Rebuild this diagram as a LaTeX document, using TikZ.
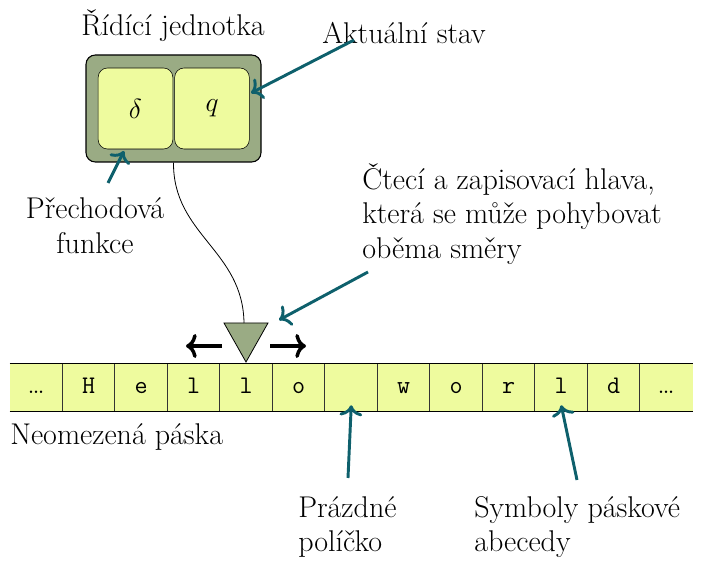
\documentclass[tikz,border=0pt]{standalone}
\usetikzlibrary{positioning,arrows.meta}
\definecolor{olivebox}{RGB}{154,171,132}
\definecolor{paleyellow}{RGB}{238,251,158}
\definecolor{tealarrow}{RGB}{14,96,108}
\tikzset{
	label text/.style={font=\fontsize{22.5}{26}\selectfont, inner sep=0pt, align=left},
	pointer/.style={-{Computer Modern Rightarrow[length=8pt,width=17pt]}, draw=tealarrow, line width=2.2pt},
	move/.style={-{Computer Modern Rightarrow[length=8pt,width=18pt]}, line width=2.6pt},
	inner box/.style={draw, fill=paleyellow, rounded corners=7pt, minimum width=56pt, minimum height=60.75pt, inner sep=0pt, font=\fontsize{22.5}{26}\selectfont},
	tape cell/.style={fill=paleyellow, minimum width=39.375pt, minimum height=35.25pt, inner sep=0pt, font=\fontsize{19}{22}\selectfont\ttfamily}
}
\begin{document}
\begin{tikzpicture}[x=0.75pt,y=0.75pt,yscale=-1,xscale=1]
	\useasboundingbox (0,0) rectangle (701,563);

	% ridici jednotka
	\node [draw, fill=olivebox, rounded corners=7pt, minimum width=131.25pt, minimum height=80.25pt, line width=0.8pt] (unit) at (173.5,108.5) {};
	\node [inner box] (delta) at (135.5,108.5) {$\delta$};
	\node [inner box] (state) at (212,108.5) {$q$};
	\node [label text, anchor=center] (title) at (173,26) {Řídící jednotka};

	\node [label text, anchor=center] (current) at (404,33) {Aktuální stav};
	\coordinate (currenttip) at (251,93);
	\draw [pointer] ([xshift=24pt,yshift=-3pt]current.south west) -- (currenttip);

	\node [label text, align=center, anchor=center] (trans) at (95,226) {Přechodová\\funkce};
	\coordinate (transfrom) at (108,183);
	\coordinate (transtip) at (124,151);
	\draw [pointer] (transfrom) -- (transtip);

	% hlava
	\draw [fill=olivebox, line width=0.6pt] (224,323) -- (268,323) -- (246,362) -- cycle;
	\coordinate (head) at (244,323);
	\draw [line width=0.6pt] (unit.south) .. controls (173,235) and (243,250) .. (head);
	\coordinate (headleft) at (222,346);
	\coordinate (leftend) at (186,346);
	\coordinate (headright) at (270,346);
	\coordinate (rightend) at (306,346);
	\draw [move] (headleft) -- (leftend);
	\draw [move] (headright) -- (rightend);

	\node [label text, anchor=north west] (headtext) at (362,163) {Čtecí a zapisovací hlava,\\která se může pohybovat\\oběma směry};
	\coordinate (headfrom) at (368,272);
	\coordinate (headtip) at (279,320);
	\draw [pointer] (headfrom) -- (headtip);

	% paska
	\foreach \s [count=\i] in {{\rmfamily\fontsize{22.5}{26}\selectfont\dots},H,e,l,l,o,{},w,o,r,l,d,{\rmfamily\fontsize{22.5}{26}\selectfont\dots}}
		\node [tape cell] (c\i) at (36.25+52.5*\i-52.5,387.5) {\strut\s};
	\foreach \i in {2,...,13}
		\draw [line width=0.5pt, draw=black!80] (c\i.north west) -- (c\i.south west);
	\draw [line width=1pt] (c1.north west) -- (c13.north east);
	\draw [line width=1pt] (c1.south west) -- (c13.south east);
	\node [label text, anchor=west] (tape) at (10,437) {Neomezená páska};

	\node [label text, anchor=north west] (blank) at (298,496) {Prázdné\\políčko};
	\coordinate (blankfrom) at (348,478);
	\draw [pointer] (blankfrom) -- ([yshift=-4.5pt]c7.south);

	\node [label text, anchor=north west] (symbols) at (474,496) {Symboly páskové\\abecedy};
	\coordinate (symbolsfrom) at (577,480);
	\draw [pointer] (symbolsfrom) -- ([yshift=-4.5pt]c11.south);
\end{tikzpicture}
\end{document}
